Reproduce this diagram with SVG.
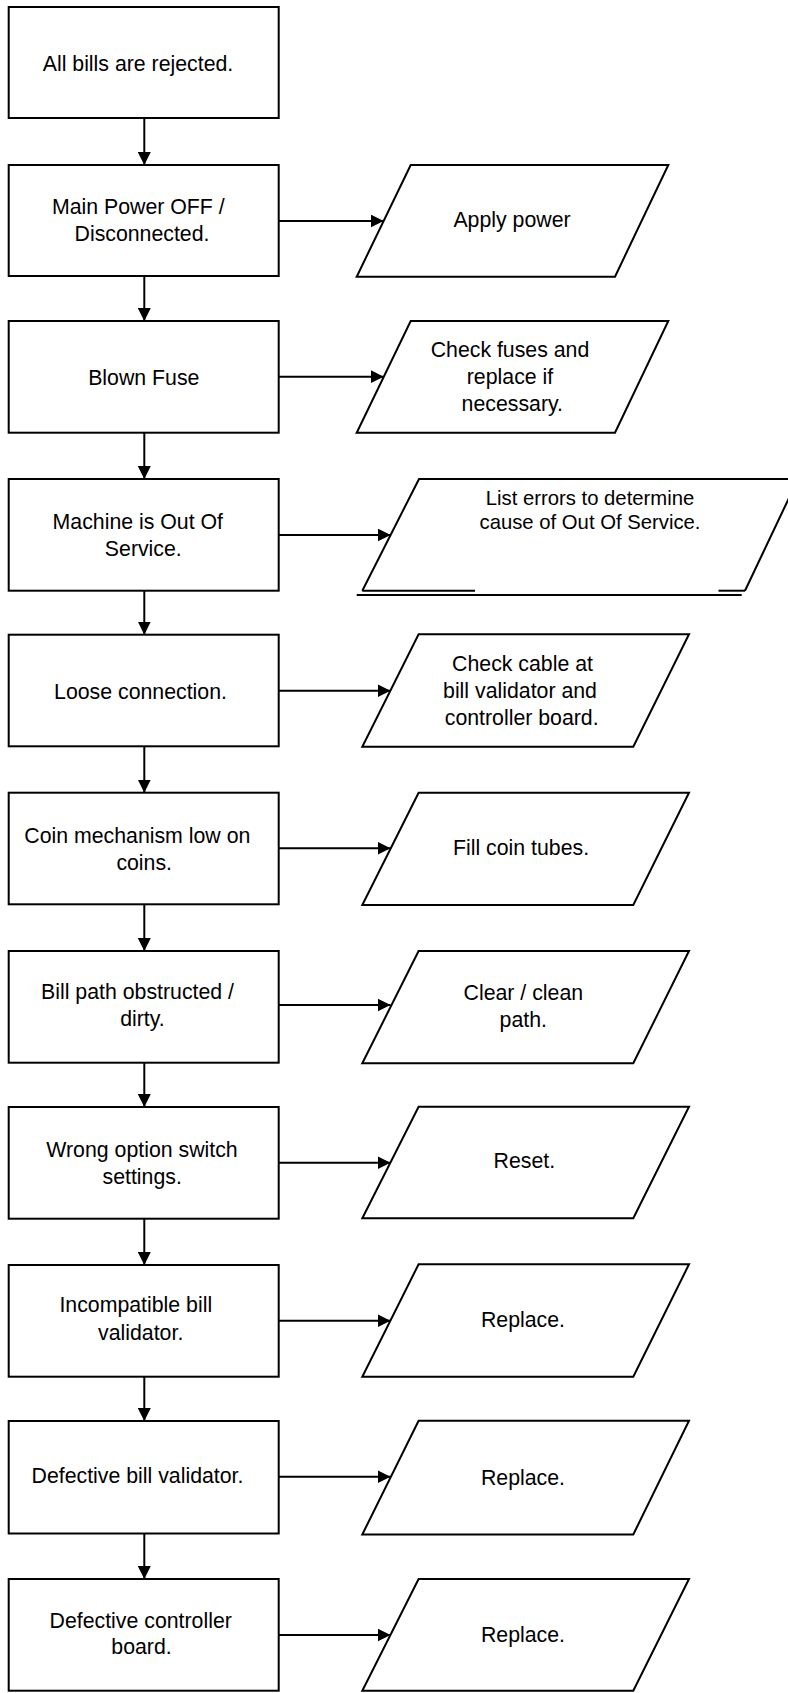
<svg xmlns="http://www.w3.org/2000/svg" width="788" height="1693" viewBox="0 0 788 1693">
<style>
.box{fill:#fff;stroke:#000;stroke-width:2}
.pg{fill:#fff;stroke:#000;stroke-width:2;stroke-linejoin:miter}
.ln{fill:none;stroke:#000;stroke-width:2}
.edge{fill:none;stroke:#000;stroke-width:2;marker-end:url(#ah)}
text{font-family:"Liberation Sans",Arial,sans-serif;font-size:21.3px;fill:#000;text-anchor:middle}
.sm{font-size:20.3px}
</style>
<defs>
<marker id="ah" markerUnits="userSpaceOnUse" markerWidth="14" markerHeight="13" refX="13" refY="6.5" orient="auto">
<path d="M0,0 L13,6.5 L0,13 z" fill="#000"/>
</marker>
</defs>
<rect width="788" height="1693" fill="#fff"/>
<g id="connectors">
<line class="edge" x1="144.3" y1="118" x2="144.3" y2="165"/>
<line class="edge" x1="144.3" y1="276" x2="144.3" y2="321"/>
<line class="edge" x1="144.3" y1="432.7" x2="144.3" y2="479"/>
<line class="edge" x1="144.3" y1="590.7" x2="144.3" y2="634.7"/>
<line class="edge" x1="144.3" y1="746.3" x2="144.3" y2="792.7"/>
<line class="edge" x1="144.3" y1="904.3" x2="144.3" y2="951"/>
<line class="edge" x1="144.3" y1="1062.7" x2="144.3" y2="1107"/>
<line class="edge" x1="144.3" y1="1218.7" x2="144.3" y2="1265"/>
<line class="edge" x1="144.3" y1="1376.7" x2="144.3" y2="1421"/>
<line class="edge" x1="144.3" y1="1533.5" x2="144.3" y2="1579"/>
<line class="edge" x1="278.7" y1="221" x2="383.7" y2="221"/>
<line class="edge" x1="278.7" y1="376.7" x2="383.7" y2="376.7"/>
<line class="edge" x1="278.7" y1="535" x2="390.7" y2="535"/>
<line class="edge" x1="278.7" y1="690.7" x2="390.5" y2="690.7"/>
<line class="edge" x1="278.7" y1="848.3" x2="390.5" y2="848.3"/>
<line class="edge" x1="278.7" y1="1005" x2="390.5" y2="1005"/>
<line class="edge" x1="278.7" y1="1162.7" x2="390.5" y2="1162.7"/>
<line class="edge" x1="278.7" y1="1320.7" x2="390.5" y2="1320.7"/>
<line class="edge" x1="278.7" y1="1476.7" x2="390.5" y2="1476.7"/>
<line class="edge" x1="278.7" y1="1635" x2="390.5" y2="1635"/>
</g>
<g id="n1"><rect class="box" x="8.7" y="7" width="270" height="111"/><text x="138" y="71">All bills are rejected.</text></g>
<g id="n2"><rect class="box" x="8.7" y="165" width="270" height="111"/><text x="138.3" y="214">Main Power OFF /</text><text x="142" y="240.7">Disconnected.</text></g>
<g id="n3"><rect class="box" x="8.7" y="321" width="270" height="111.7"/><text x="143.8" y="385">Blown Fuse</text></g>
<g id="n4"><rect class="box" x="8.7" y="479" width="270" height="111.7"/><text x="137.8" y="529">Machine is Out Of</text><text x="143.3" y="555.5">Service.</text></g>
<g id="n5"><rect class="box" x="8.7" y="634.7" width="270" height="111.6"/><text x="140.5" y="699">Loose connection.</text></g>
<g id="n6"><rect class="box" x="8.7" y="792.7" width="270" height="111.6"/><text x="137.3" y="843.3">Coin mechanism low on</text><text x="144.2" y="869.5">coins.</text></g>
<g id="n7"><rect class="box" x="8.7" y="951" width="270" height="111.7"/><text x="137.5" y="999">Bill path obstructed /</text><text x="142.5" y="1026">dirty.</text></g>
<g id="n8"><rect class="box" x="8.7" y="1107" width="270" height="111.7"/><text x="142" y="1156.7">Wrong option switch</text><text x="142.2" y="1183.5">settings.</text></g>
<g id="n9"><rect class="box" x="8.7" y="1265" width="270" height="111.7"/><text x="135.8" y="1312.3">Incompatible bill</text><text x="140.7" y="1339.5">validator.</text></g>
<g id="n10"><rect class="box" x="8.7" y="1421" width="270" height="112.5"/><text x="137.5" y="1483.3">Defective bill validator.</text></g>
<g id="n11"><rect class="box" x="8.7" y="1579" width="270" height="111.7"/><text x="140.7" y="1627.7">Defective controller</text><text x="141.5" y="1654.2">board.</text></g>
<g id="p2"><polygon class="pg" points="410.7,165 668.3,165 615,276.7 356.7,276.7"/><text x="512" y="226.7">Apply power</text></g>
<g id="p3"><polygon class="pg" points="410.7,321 668.3,321 615,432.7 356.7,432.7"/><text x="510" y="356.7">Check fuses and</text><text x="510" y="383.7">replace if</text><text x="512.3" y="410.7">necessary.</text></g>
<g id="p4"><polygon points="419,479 798,479 745,590.7 362.3,590.7" fill="#fff"/><polyline class="ln" points="362.3,590.7 419,479 798,479 745,590.7"/><line class="ln" x1="362.3" y1="590.7" x2="475" y2="590.7"/><line class="ln" x1="718.5" y1="590.7" x2="745" y2="590.7"/><line class="ln" x1="356.7" y1="595" x2="741.7" y2="595"/><text class="sm" x="590" y="505">List errors to determine</text><text class="sm" x="590" y="529">cause of Out Of Service.</text></g>
<g id="p5"><polygon class="pg" points="418.6,634.3 689,634.3 633.3,746.7 362.3,746.7"/><text x="522.5" y="671">Check cable at</text><text x="520" y="698">bill validator and</text><text x="521.7" y="725">controller board.</text></g>
<g id="p6"><polygon class="pg" points="418.6,792.7 689,792.7 633.3,905 362.3,905"/><text x="521" y="855">Fill coin tubes.</text></g>
<g id="p7"><polygon class="pg" points="418.6,951 689,951 633.3,1063.3 362.3,1063.3"/><text x="523.3" y="1000">Clear / clean</text><text x="523.3" y="1026.7">path.</text></g>
<g id="p8"><polygon class="pg" points="418.6,1106.7 689,1106.7 633.3,1218.3 362.3,1218.3"/><text x="524.3" y="1168.3">Reset.</text></g>
<g id="p9"><polygon class="pg" points="418.6,1264.3 689,1264.3 633.3,1376.7 362.3,1376.7"/><text x="523" y="1326.7">Replace.</text></g>
<g id="p10"><polygon class="pg" points="418.6,1420.7 689,1420.7 633.3,1534.5 362.3,1534.5"/><text x="523" y="1485">Replace.</text></g>
<g id="p11"><polygon class="pg" points="418.6,1579 689,1579 633.3,1690.7 362.3,1690.7"/><text x="523" y="1641.7">Replace.</text></g>
</svg>
